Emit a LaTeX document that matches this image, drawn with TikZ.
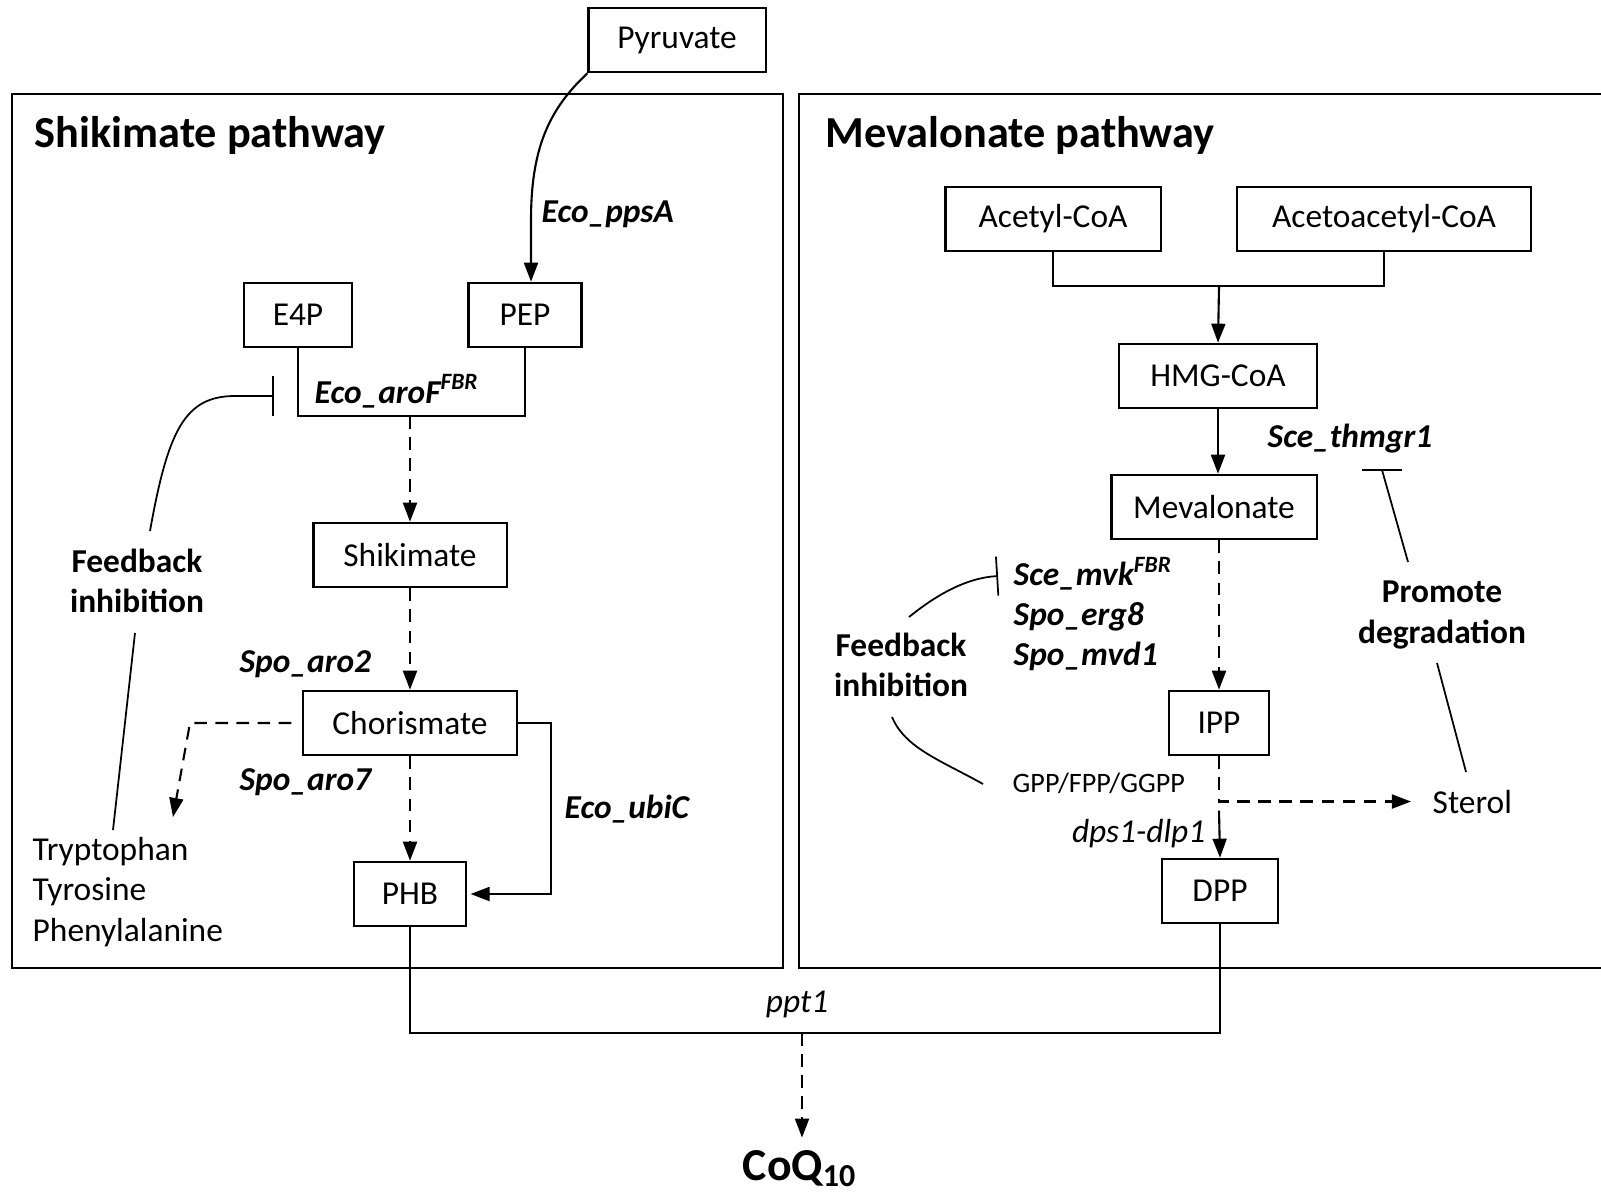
\documentclass[tikz,border=0pt]{standalone}
\usepackage{fontspec}
\setmainfont{Carlito}
\usetikzlibrary{arrows.meta,positioning,calc}
\tikzset{
  mol/.style={draw, line width=0.6pt, minimum height=0.645cm, inner sep=2pt, font=\fontsize{9.5}{11.4}\selectfont},
  panel/.style={draw, line width=0.7pt},
  heading/.style={font=\fontsize{12.6}{15}\selectfont\bfseries, inner sep=0pt, anchor=base west},
  gene/.style={font=\fontsize{9.5}{11.4}\selectfont\bfseries\itshape, inner sep=0pt, align=left},
  note/.style={font=\fontsize{9.5}{11.4}\selectfont\bfseries, inner sep=0pt, align=center},
  txt/.style={font=\fontsize{9.5}{11.4}\selectfont, inner sep=0pt, align=left},
  line/.style={-{Triangle[length=1.9mm, width=1.4mm]}, line width=0.6pt},
  dline/.style={line, dash pattern=on 3.6pt off 2.4pt},
  link/.style={line width=0.6pt},
  reg/.style={line width=0.5pt},
  inh/.style={reg, -{Bar[width=3.9mm]}}
}
\begin{document}
\begin{tikzpicture}[x=0.01cm, y=-0.01cm]
    \useasboundingbox (0,0) rectangle (1601,1194);
    \draw[panel] (12,94) rectangle (783,968);
    \draw[panel] (1610,94) -| (799,968) -- (1610,968);
    \node[heading] (shiktitle) at (34,147) {Shikimate pathway};
    \node[heading] (mevtitle) at (825,147) {Mevalonate pathway};

    \node[mol, minimum width=1.77cm] (pyr) at (677,40) {Pyruvate};
    \node[mol, minimum width=1.08cm] (e4p) at (298,315) {E4P};
    \node[mol, minimum width=1.13cm] (pep) at (525,315) {PEP};
    \node[mol, minimum width=1.93cm] (shik) at (410,555) {Shikimate};
    \node[mol, minimum width=2.14cm] (chor) at (410,723) {Chorismate};
    \node[mol, minimum width=1.12cm] (phb) at (410,894) {PHB};
    \node[mol, minimum width=2.15cm] (acet) at (1053,219) {Acetyl-CoA};
    \node[mol, minimum width=2.94cm] (acac) at (1384,219) {Acetoacetyl-CoA};
    \node[mol, minimum width=1.98cm] (hmg) at (1218,376) {HMG-CoA};
    \node[mol, minimum width=2.05cm] (mev) at (1214,507) {Mevalonate};
    \node[mol, minimum width=1.00cm] (ipp) at (1219,723) {IPP};
    \node[mol, minimum width=1.16cm] (dpp) at (1220,891) {DPP};

    \node[gene, anchor=base west] (ppsA) at (541,222) {Eco\_ppsA};
    \node[gene, anchor=base west] (aroF) at (314,403) {Eco\_aroF\textsuperscript{FBR}};
    \node[gene, anchor=base west] (aro2) at (239,672) {Spo\_aro2};
    \node[gene, anchor=base west] (aro7) at (239,790) {Spo\_aro7};
    \node[gene, anchor=base west] (ubiC) at (564,818) {Eco\_ubiC};
    \node[gene, anchor=base west] (thmgr) at (1267,447) {Sce\_thmgr1};
    \node[gene, anchor=west] (mvk) at (1013,614) {Sce\_mvk\textsuperscript{FBR}\\Spo\_erg8\\Spo\_mvd1};
    \node[note] (fbleft) at (137,581) {Feedback\\inhibition};
    \node[note] (fbright) at (901,665) {Feedback\\inhibition};
    \node[note] (promo) at (1442,615) {Promote\\degradation};
    \node[txt, anchor=west] (arom) at (32,892) {Tryptophan\\Tyrosine\\Phenylalanine};
    \node[txt, anchor=base west] (sterol) at (1432,813) {Sterol};
    \node[txt, anchor=base west, font=\fontsize{8}{9.6}\selectfont] (gpp) at (1012,792) {GPP/FPP/GGPP};
    \node[txt, anchor=base east, font=\fontsize{9.5}{11.4}\selectfont\itshape] (dps) at (1206,842) {dps1-dlp1};
    \node[txt, anchor=base, font=\fontsize{9.5}{11.4}\selectfont\itshape] (ppt1) at (797,1012) {ppt1};
    \node[anchor=base, font=\fontsize{13}{15.6}\selectfont\bfseries] (coq) at (800,1180) {CoQ\textsubscript{10}};

    \coordinate (ppsAbend) at (531,220);
    \coordinate (aroJ) at (410,416);
    \coordinate (aroTurn) at (190,723);
    \coordinate (aroEnd) at (173,817);
    \coordinate (ubiCturn) at (551,810);
    \coordinate (aroBar) at (274,396);
    \coordinate (fbLtop) at (150,531);
    \coordinate (fbLbot) at (135,633);
    \coordinate (aromTop) at (113,830);
    \coordinate (ppt) at (802,1033);
    \coordinate (acJ) at (1219,286);
    \coordinate (mvkBar) at (998,576);
    \coordinate (fbRtop) at (909,617);
    \coordinate (fbRbot) at (892,717);
    \coordinate (gppEnd) at (983,784);
    \coordinate (thBar) at (1382,470);
    \coordinate (promTop) at (1408,562);
    \coordinate (promBot) at (1437,663);
    \coordinate (sterTop) at (1466,772);

    \draw[line] (pyr.south west) .. controls (548,110) and (531,150) .. (ppsAbend) -- (ppsAbend |- pep.north);
    \draw[link] (e4p.south) |- (aroJ) -| (pep.south);
    \draw[dline] (aroJ) -- (shik.north);
    \draw[dline] (shik.south) -- (chor.north);
    \draw[dline] (chor.south) -- (phb.north);
    \draw[dline, shorten <=3pt] (chor.west) -- (aroTurn) -- (aroEnd);
    \draw[line, shorten >=1pt] (chor.east) -| (ubiCturn) |- (phb.east);
    \draw[inh] (fbLtop) .. controls (168,430) and (185,396) .. (235,396) -- (aroBar);
    \draw[reg] (fbLbot) -- (aromTop);

    \draw[link] (phb.south) |- (ppt) -| (dpp.south);
    \draw[dline] (ppt) -- (ppt |- coq.north);

    \draw[link] (acet.south) |- (acJ) -| (acac.south);
    \draw[line] (acJ) -- (hmg.north);
    \draw[line] (hmg.south) -- (hmg.south |- mev.north);
    \draw[dline] (ipp.north |- mev.south) -- (ipp.north);
    \draw[dline, shorten >=6pt] (ipp.south) -- (ipp.south |- sterol.west) -- (sterol.west);
    \draw[line] ($(ipp.south |- sterol.west)+(0,9)$) -- (dpp.north);
    \draw[inh] (fbRtop) .. controls (935,596) and (965,578) .. (mvkBar);
    \draw[reg] (fbRbot) .. controls (905,748) and (940,760) .. (gppEnd);
    \draw[reg] (promTop) -- (thBar);
    \draw[reg] ($(thBar)+(-20,0)$) -- ($(thBar)+(20,0)$);
    \draw[reg] (promBot) -- (sterTop);
\end{tikzpicture}
\end{document}
